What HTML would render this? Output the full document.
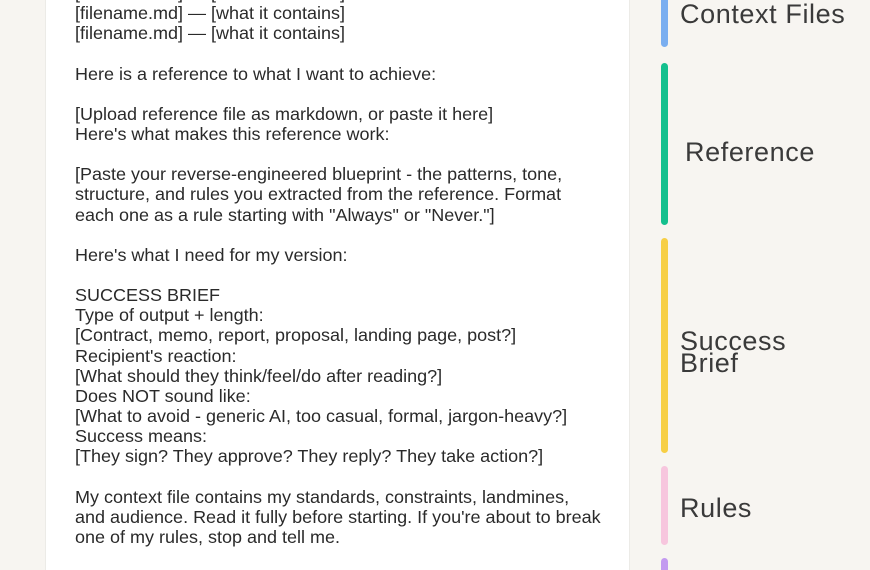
<!DOCTYPE html>
<html><head><meta charset="utf-8"><style>
html,body{margin:0;padding:0;width:870px;height:570px;overflow:hidden}
body{background:#f7f5f1;position:relative;font-family:"Liberation Sans",sans-serif}
.panel{position:absolute;left:45px;top:0;width:583px;height:570px;background:#fff;border-left:1px solid #ecebe7;border-right:1px solid #ecebe7}
.txt{position:absolute;left:75px;top:-17px;width:620px;transform:scaleX(1.012);transform-origin:0 0;font-size:17.8px;line-height:20.14px;color:#2a2a2a;white-space:pre}
.bar{position:absolute;left:661px;width:7px;border-radius:4px}
.lab{position:absolute;font-size:27px;color:#3a3a3a;line-height:22px;letter-spacing:0.6px}
</style></head><body>
<div class="panel"></div>
<div class="txt">[filename.md] — [what it contains]
[filename.md] — [what it contains]
[filename.md] — [what it contains]

Here is a reference to what I want to achieve:

[Upload reference file as markdown, or paste it here]
Here's what makes this reference work:

[Paste your reverse-engineered blueprint - the patterns, tone,
structure, and rules you extracted from the reference. Format
each one as a rule starting with "Always" or "Never."]

Here's what I need for my version:

SUCCESS BRIEF
Type of output + length:
[Contract, memo, report, proposal, landing page, post?]
Recipient's reaction:
[What should they think/feel/do after reading?]
Does NOT sound like:
[What to avoid - generic AI, too casual, formal, jargon-heavy?]
Success means:
[They sign? They approve? They reply? They take action?]

My context file contains my standards, constraints, landmines,
and audience. Read it fully before starting. If you're about to break
one of my rules, stop and tell me.

<span style="color:#777">DO NOT start executing yet. Instead, ask me clarifying questions</span></div>
<div class="bar" style="top:-10px;height:57px;background:#7aaef0"></div>
<div class="bar" style="top:63px;height:162px;background:#14c08e"></div>
<div class="bar" style="top:238px;height:215px;background:#f7cf45"></div>
<div class="bar" style="top:466px;height:79px;background:#f7c6de"></div>
<div class="bar" style="top:558px;height:20px;background:#c39af0"></div>
<div class="lab" style="left:680px;top:3px">Context Files</div>
<div class="lab" style="left:685px;top:141px">Reference</div>
<div class="lab" style="left:680px;top:330px">Success<br>Brief</div>
<div class="lab" style="left:680px;top:497px">Rules</div>
</body></html>
